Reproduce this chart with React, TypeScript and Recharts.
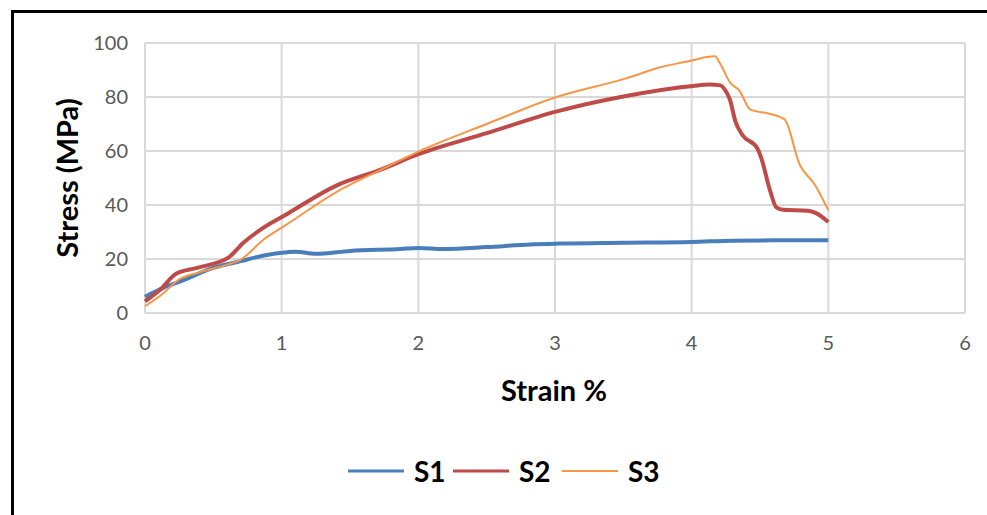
import React from 'react';
import {
  LineChart,
  Line,
  XAxis,
  YAxis,
  CartesianGrid,
} from 'recharts';

// strain (%) / stress (MPa)
const s1Strain = [0, 0.13, 0.26, 0.5, 0.7, 0.87, 1.04, 1.1, 1.25, 1.5, 1.87, 2.0, 2.18, 2.5, 2.82, 3.04, 3.5, 4.0, 4.3, 4.6, 5.0];
const s1Stress = [6, 9.2, 11.7, 16.7, 19.2, 21.3, 22.5, 22.7, 21.9, 23.0, 23.7, 24.1, 23.7, 24.4, 25.4, 25.7, 26.0, 26.3, 26.8, 26.9, 26.9];

const s2Strain = [0, 0.11, 0.23, 0.38, 0.61, 0.72, 0.87, 1.04, 1.4, 1.72, 2.0, 2.5, 3.0, 3.52, 4.01, 4.13, 4.21, 4.24, 4.28, 4.32, 4.37, 4.48, 4.51, 4.57, 4.62, 4.67, 4.85, 4.91, 5.0];
const s2Stress = [4.3, 8.6, 14.6, 16.7, 20.5, 26, 31.7, 36.7, 47.2, 53, 58.8, 66.6, 74.5, 80.4, 84.1, 84.6, 84.3, 82.9, 79, 71, 66, 61, 57.3, 46, 39.1, 38.2, 37.9, 37, 33.7];

const s3Strain = [0, 0.135, 0.245, 0.38, 0.6, 0.7, 0.87, 1.04, 1.4, 1.72, 2.0, 2.5, 3.0, 3.52, 3.77, 4.0, 4.11, 4.17, 4.21, 4.28, 4.35, 4.43, 4.57, 4.68, 4.79, 4.9, 5.0];
const s3Stress = [2.5, 7.3, 12.3, 14.8, 17.9, 19.8, 27.3, 32.9, 44.8, 52.9, 59.8, 70, 79.8, 86.9, 91, 93.5, 94.8, 95.1, 92.2, 85.4, 82.3, 75.3, 73.8, 71.7, 55, 47.6, 38];

const xTicks = [0, 1, 2, 3, 4, 5, 6];
const yTicks = [0, 20, 40, 60, 80, 100];

const toPoints = (xs: number[], ys: number[]) => xs.map((x, i) => ({ strain: x, stress: ys[i] }));

const series = [
  { name: 'S1', data: toPoints(s1Strain, s1Stress), color: '#4a7ebb', width: 4 },
  { name: 'S2', data: toPoints(s2Strain, s2Stress), color: '#be4b48', width: 4 },
  { name: 'S3', data: toPoints(s3Strain, s3Stress), color: '#f79646', width: 2 },
];

const FONT = 'Lato, "Open Sans", sans-serif';
const tickStyle = { fill: '#595959', fontSize: 20, fontFamily: FONT };

export default function App() {
  return (
    <div style={{ position: 'absolute', left: 0, top: 0, width: 987, height: 515, background: '#fff', overflow: 'hidden' }}>
      <div
        style={{
          position: 'absolute',
          left: 11,
          top: 10,
          right: -5,
          bottom: -5,
          borderTop: '3px solid #000',
          borderLeft: '3px solid #000',
        }}
      />
      <div style={{ position: 'absolute', left: 0, top: 0 }}>
        <LineChart width={987} height={515} margin={{ top: 43, right: 22, left: 0, bottom: 162 }}>
          <CartesianGrid stroke="#d9d9d9" strokeWidth={2} />
          <XAxis
            type="number"
            dataKey="strain"
            domain={[0, 6]}
            ticks={xTicks}
            axisLine={false}
            tickLine={false}
            tickSize={0}
            tickMargin={23}
            height={40}
            tick={tickStyle}
            label={{
              content: () => (
                <text x={554} y={389} textAnchor="middle" dominantBaseline="central" fontFamily={FONT} fontWeight={700} fontSize={29} fill="#000">
                  Strain %
                </text>
              ),
            }}
          />
          <YAxis
            type="number"
            dataKey="stress"
            domain={[0, 100]}
            ticks={yTicks}
            axisLine={false}
            tickLine={false}
            tickSize={0}
            tickMargin={17}
            width={145}
            tick={tickStyle}
            label={{
              content: () => (
                <text
                  x={66}
                  y={178}
                  textAnchor="middle"
                  dominantBaseline="central"
                  transform="rotate(-90 66 178)"
                  fontFamily={FONT}
                  fontWeight={700}
                  fontSize={29}
                  fill="#000"
                >
                  Stress (MPa)
                </text>
              ),
            }}
          />
          {series.map((s) => (
            <Line
              key={s.name}
              data={s.data}
              dataKey="stress"
              name={s.name}
              type="monotone"
              stroke={s.color}
              strokeWidth={s.width}
              dot={false}
              activeDot={false}
              isAnimationActive={false}
            />
          ))}
        </LineChart>
      </div>
      {series.map((s, i) => (
        <div
          key={s.name}
          style={{
            position: 'absolute',
            left: [348, 453, 562][i],
            top: 455,
            height: 32,
            display: 'flex',
            alignItems: 'center',
            fontFamily: FONT,
            fontWeight: 700,
            fontSize: 28,
            color: '#000',
          }}
        >
          <svg width={56} height={10} style={{ marginRight: 10 }}>
            <line x1={0} y1={5} x2={56} y2={5} stroke={s.color} strokeWidth={s.width === 4 ? 3 : 2} />
          </svg>
          {s.name}
        </div>
      ))}
    </div>
  );
}
